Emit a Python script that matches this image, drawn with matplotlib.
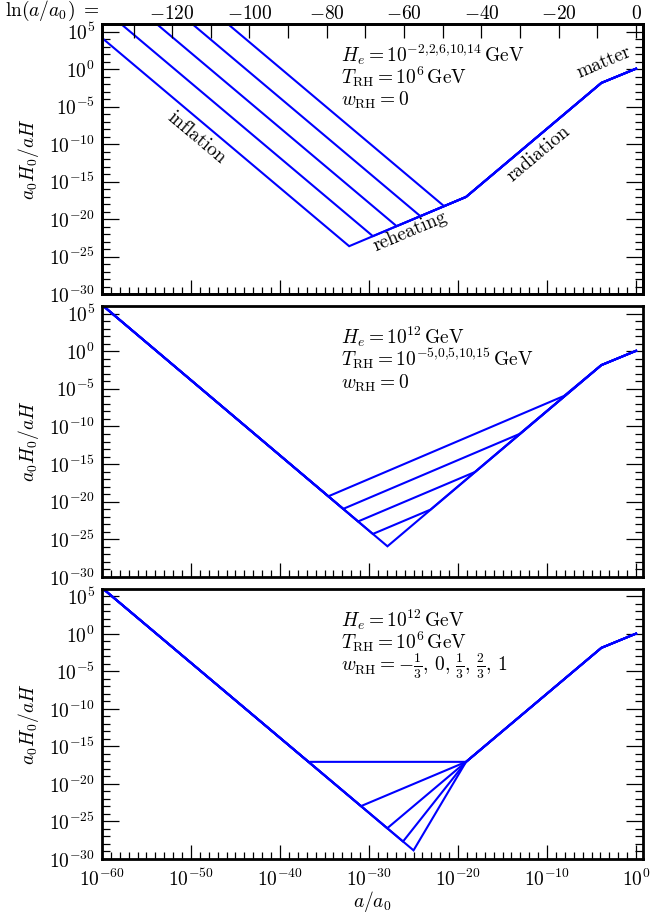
import numpy as np
import matplotlib
matplotlib.use('Agg')
import matplotlib.pyplot as plt
from matplotlib.ticker import FixedLocator, NullFormatter, FuncFormatter

plt.rcParams['mathtext.fontset'] = 'cm'
plt.rcParams['font.family'] = 'serif'
plt.rcParams['font.serif'] = ['cmr10']
plt.rcParams['axes.unicode_minus'] = False

########## data: log10 of a/a0 and of a0H0/aH at the kinks ##########
# shared late-time part (end of reheating -> matter-radiation eq -> today)
loga_eq, logy_eq = -3.9, -1.85
loga_now, logy_now = 0.0, 0.05
loga_start = -60.0

# panel 1 : H_e = 10^{-2,2,6,10,14} GeV, T_RH = 10^6 GeV, w_RH = 0
p1_start_logy = [20.15, 16.15, 12.15, 8.15, 4.15]
p1_end_inf_loga = [-21.57, -24.23, -26.90, -29.57, -32.23]
p1_end_inf_logy = [-18.28, -19.62, -20.95, -22.28, -23.62]
p1_rh_loga = [-19.1, -19.1, -19.1, -19.1, -19.1]
p1_rh_logy = [-17.05, -17.05, -17.05, -17.05, -17.05]

# panel 2 : H_e = 10^12 GeV, T_RH = 10^{-5,0,5,10,15} GeV, w_RH = 0
p2_start_logy = [6.15, 6.15, 6.15, 6.15, 6.15]
p2_end_inf_loga = [-34.57, -32.90, -31.23, -29.57, -27.93]
p2_end_inf_logy = [-19.28, -20.95, -22.62, -24.28, -25.92]
p2_rh_loga = [-8.1, -13.1, -18.1, -23.1, -27.93]
p2_rh_logy = [-5.95, -11.0, -16.05, -21.05, -25.92]

# panel 3 : H_e = 10^12 GeV, T_RH = 10^6 GeV, w_RH = -1/3, 0, 1/3, 2/3, 1
p3_start_logy = [6.15, 6.15, 6.15, 6.15, 6.15]
p3_end_inf_loga = [-36.80, -30.90, -27.95, -26.18, -25.00]
p3_end_inf_logy = [-17.05, -22.95, -25.90, -27.67, -28.85]
p3_rh_loga = [-19.1, -19.1, -19.1, -19.1, -19.1]
p3_rh_logy = [-17.05, -17.05, -17.05, -17.05, -17.05]

panel_text = [
    [r'$H_e = 10^{-2{,}2{,}6{,}10{,}14}\,\mathrm{GeV}$',
     r'$T_\mathrm{RH} = 10^{6}\,\mathrm{GeV}$',
     r'$w_\mathrm{RH} = 0$'],
    [r'$H_e = 10^{12}\,\mathrm{GeV}$',
     r'$T_\mathrm{RH} = 10^{-5{,}0{,}5{,}10{,}15}\,\mathrm{GeV}$',
     r'$w_\mathrm{RH} = 0$'],
    [r'$H_e = 10^{12}\,\mathrm{GeV}$',
     r'$T_\mathrm{RH} = 10^{6}\,\mathrm{GeV}$',
     r'$w_\mathrm{RH} = -\frac{1}{3},\, 0,\, \frac{1}{3},\, \frac{2}{3},\, 1$'],
]

ln_ticks = [-130, -120, -110, -100, -90, -80, -70, -60, -50, -40, -30, -20, -10, 0]
ln_labels = ['', '$-120$', '', '$-100$', '', '$-80$', '', '$-60$', '', '$-40$', '', '$-20$', '', '$0$']

panels = [
    (p1_start_logy, p1_end_inf_loga, p1_end_inf_logy, p1_rh_loga, p1_rh_logy),
    (p2_start_logy, p2_end_inf_loga, p2_end_inf_logy, p2_rh_loga, p2_rh_logy),
    (p3_start_logy, p3_end_inf_loga, p3_end_inf_logy, p3_rh_loga, p3_rh_logy),
]

fs = 14
xmin, xmax = 1e-60, 6.0
ymin, ymax = 1e-30, 1e6

fig = plt.figure(figsize=(6.7, 9.14), dpi=100)
rects = [[0.1522, 0.6783, 0.8075, 0.2954],
         [0.1522, 0.3687, 0.8075, 0.2965],
         [0.1522, 0.0602, 0.8075, 0.2954]]

pow_fmt = FuncFormatter(lambda v, p: r'$10^{%d}$' % int(round(np.log10(v))))

axes = []
for k, (rect, data) in enumerate(zip(rects, panels)):
    ax = fig.add_axes(rect)
    axes.append(ax)
    y0, le, ye, lr, yr = data
    for i in range(len(y0)):
        la = [loga_start, le[i], lr[i], loga_eq, loga_now]
        ly = [y0[i], ye[i], yr[i], logy_eq, logy_now]
        ax.plot(10.0 ** np.array(la), 10.0 ** np.array(ly), color='#0000ff', lw=1.5,
                solid_joinstyle='miter')
    ax.set_xscale('log')
    ax.set_yscale('log')
    ax.set_xlim(xmin, xmax)
    ax.set_ylim(ymin, ymax)

    ax.xaxis.set_major_locator(FixedLocator(10.0 ** np.arange(-60, 1, 10)))
    ax.xaxis.set_minor_locator(FixedLocator(10.0 ** np.arange(-60, 1, 1)))
    ax.yaxis.set_major_locator(FixedLocator(10.0 ** np.arange(-30, 6, 5)))
    ax.yaxis.set_minor_locator(FixedLocator(10.0 ** np.arange(-30, 6, 1)))
    ax.xaxis.set_minor_formatter(NullFormatter())
    ax.yaxis.set_minor_formatter(NullFormatter())
    ax.yaxis.set_major_formatter(pow_fmt)
    if k == 2:
        ax.xaxis.set_major_formatter(pow_fmt)
        ax.set_xlabel(r'$a/a_0$', fontsize=fs, labelpad=-1)
    else:
        ax.xaxis.set_major_formatter(NullFormatter())
    ax.tick_params(which='both', direction='in', top=False, right=True,
                   labelsize=fs, width=0.9)
    ax.tick_params(axis='x', which='major', length=10, pad=7)
    ax.tick_params(axis='x', which='minor', length=5)
    ax.tick_params(axis='y', which='major', length=12, pad=5)
    ax.tick_params(axis='y', which='minor', length=6)
    for s in ax.spines.values():
        s.set_linewidth(2)
    ax.set_ylabel(r'$a_0H_0/aH$', fontsize=fs, labelpad=6)

    for j, t in enumerate(panel_text[k]):
        ax.text(0.441, 0.86 - 0.082 * j, t, transform=ax.transAxes, fontsize=fs,
                va='baseline', ha='left')

# top axis in ln(a/a0)
ax0 = axes[0]
axt = ax0.twiny()
axt.set_xscale('log')
axt.set_xlim(xmin, xmax)
axt.xaxis.set_major_locator(FixedLocator(np.exp(np.array(ln_ticks, dtype=float))))
axt.xaxis.set_minor_locator(FixedLocator([]))
axt.set_xticklabels(ln_labels)
axt.tick_params(which='both', direction='in', length=10, width=0.9, labelsize=fs, pad=1)
for s in axt.spines.values():
    s.set_linewidth(2)
fig.text(0.008, 0.983, r'$\ln(a/a_0)\ =$', fontsize=fs, ha='left', va='baseline')

# phase labels in the top panel
ax0.text(10 ** -49.4, 10 ** -9.2, 'inflation', rotation=-40, fontsize=fs,
         ha='center', va='center', rotation_mode='anchor')
ax0.text(10 ** -25.4, 10 ** -21.7, 'reheating', rotation=23, fontsize=fs,
         ha='center', va='center', rotation_mode='anchor')
ax0.text(10 ** -11.0, 10 ** -11.3, 'radiation', rotation=40, fontsize=fs,
         ha='center', va='center', rotation_mode='anchor')
ax0.text(10 ** -3.6, 10 ** 0.9, 'matter', rotation=23, fontsize=fs,
         ha='center', va='center', rotation_mode='anchor')

fig.savefig('out.png', dpi=100)
